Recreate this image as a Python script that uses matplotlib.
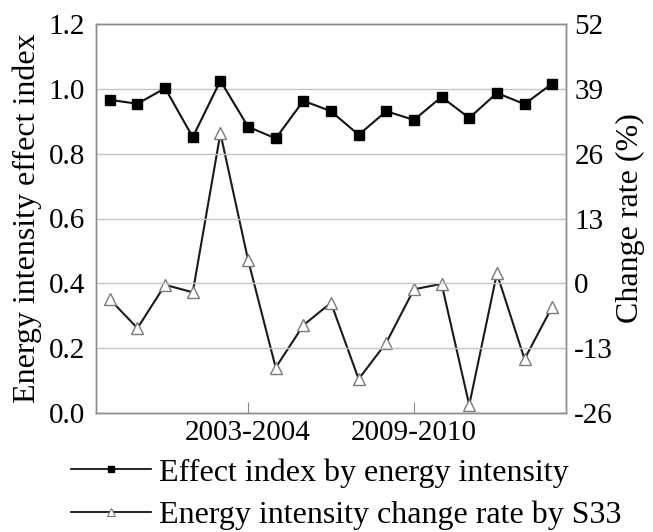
import matplotlib
matplotlib.use("Agg")
import matplotlib.pyplot as plt
from matplotlib.lines import Line2D

plt.rcParams['font.family'] = ['Liberation Serif', 'DejaVu Serif']

periods = ['1998-1999', '1999-2000', '2000-2001', '2001-2002', '2002-2003',
           '2003-2004', '2004-2005', '2005-2006', '2006-2007', '2007-2008',
           '2008-2009', '2009-2010', '2010-2011', '2011-2012', '2012-2013',
           '2013-2014', '2014-2015']
effect_index = [0.966, 0.954, 1.002, 0.851, 1.025, 0.883, 0.847, 0.963, 0.931,
                0.858, 0.931, 0.904, 0.975, 0.910, 0.987, 0.953, 1.016]
change_rate = [-3.2, -9.0, -0.3, -1.8, 30.1, 4.7, -16.9, -8.4, -3.9, -19.2,
               -11.9, -1.2, -0.1, -24.4, 2.0, -15.2, -4.7]
left_ticks = [0.0, 0.2, 0.4, 0.6, 0.8, 1.0, 1.2]
right_ticks = [-26, -13, 0, 13, 26, 39, 52]
shown_periods = ['2003-2004', '2009-2010']

fig = plt.figure(figsize=(6.53, 5.32), dpi=100)
ax = fig.add_axes([96/653, (532-413)/532, (566-96)/653, (413-24)/532])
ax2 = ax.twinx()

x = list(range(len(periods)))
spine_c = '#8c8c8c'
TICK_FS = 21
LABEL_FS = 23

for a in (ax, ax2):
    for s in a.spines.values():
        s.set_color(spine_c)
        s.set_linewidth(1.0)

ax.set_ylim(0, 1.2)
ax.set_xlim(-0.5, len(periods) - 0.5)
ax.set_yticks(left_ticks)
ax.set_yticklabels([f"{v:.1f}" for v in left_ticks])
ax.grid(axis='y', color='#c4c4c4', linewidth=1.0)
ax.set_axisbelow(True)
ax.set_xticks([periods.index(p) for p in shown_periods])
ax.set_xticklabels(shown_periods)
ax.tick_params(axis='x', direction='in', length=8, color=spine_c, labelsize=TICK_FS, pad=5)
ax.tick_params(axis='y', direction='in', length=0, labelsize=TICK_FS, pad=8)
ax.set_ylabel('Energy intensity effect index', fontsize=LABEL_FS)
ax.yaxis.label.set_va('center')
ax.yaxis.set_label_coords((27-96)/470, 0.5)

ax2.set_ylim(-26, 52)
ax2.set_yticks(right_ticks)
ax2.set_yticklabels([str(v) for v in right_ticks])
ax2.tick_params(axis='y', direction='in', length=4, color=spine_c, labelsize=TICK_FS, pad=6)
ax2.set_ylabel('Change rate (%)', fontsize=LABEL_FS)
ax2.yaxis.label.set_va('center')
ax2.yaxis.set_label_coords((630-96)/470, 0.5)

ax2.plot(x, change_rate, color='#1a1a1a', linewidth=1.5, marker='^',
         markersize=9, markerfacecolor='white', markeredgecolor='#7a7a7a',
         markeredgewidth=1.0, zorder=3)
ax.plot(x, effect_index, color='#111111', linewidth=1.5, marker='s',
        markersize=7, markerfacecolor='black', markeredgecolor='black', zorder=3)
ax.set_zorder(ax2.get_zorder() + 1)
ax.patch.set_visible(False)

h1 = Line2D([], [], color='black', linewidth=1.2, marker='s', markersize=5,
            markerfacecolor='black')
h2 = Line2D([], [], color='black', linewidth=1.2, marker='^', markersize=6,
            markerfacecolor='white', markeredgecolor='#7a7a7a', markeredgewidth=0.8)
fig.legend([h1, h2], ['Effect index by energy intensity',
                      'Energy intensity change rate by S33'],
           loc='upper left', bbox_to_anchor=(71/653, 1 - 458/532), frameon=False,
           fontsize=23, handlelength=2.5, handletextpad=0.25, labelspacing=0.42,
           borderaxespad=0, borderpad=0)

fig.savefig('out.png', dpi=100)
